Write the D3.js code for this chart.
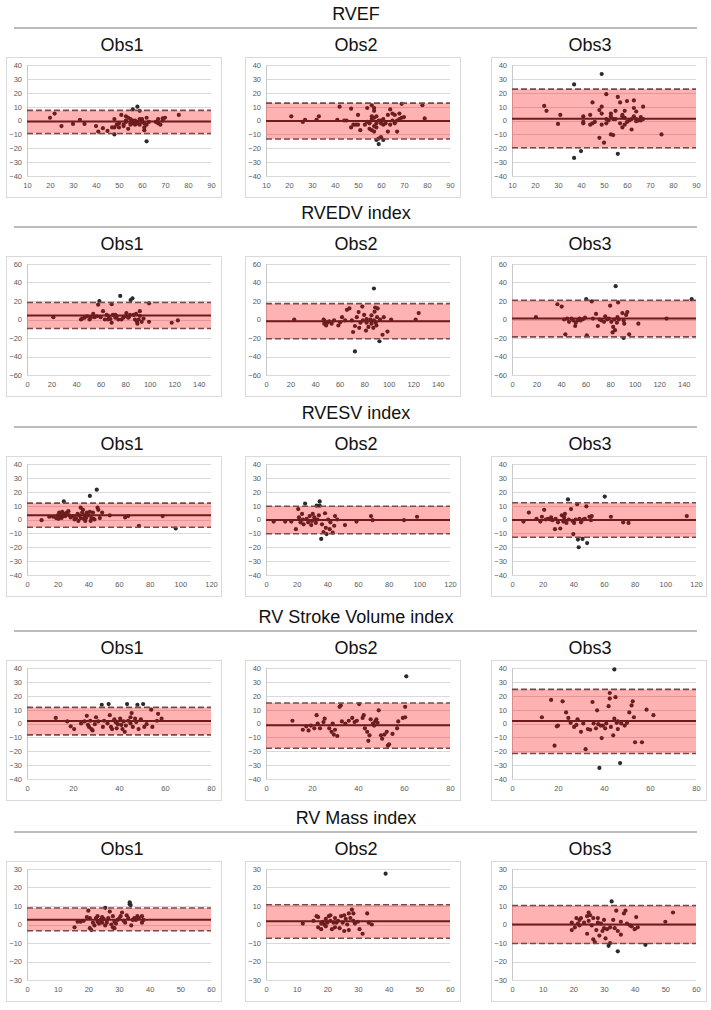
<!DOCTYPE html>
<html><head><meta charset="utf-8">
<script src="https://cdn.jsdelivr.net/npm/d3@7"></script>
<style>
html,body{margin:0;padding:0;background:#fff;}
svg{display:block;}
</style></head>
<body>
<svg id="chart" width="711" height="1010"></svg>
<script>
// ---------------- DATA ----------------
const rowTitles = ["RVEF", "RVEDV index", "RVESV index", "RV Stroke Volume index", "RV Mass index"];
const obsLabels = ["Obs1", "Obs2", "Obs3"];

const xDomains = [[10, 90], [0, 150], [0, 120], [0, 80], [0, 60]];
const xTickLabels = [
  [10, 20, 30, 40, 50, 60, 70, 80, 90],
  [0, 20, 40, 60, 80, 100, 120, 140],
  [0, 20, 40, 60, 80, 100, 120],
  [0, 20, 40, 60, 80],
  [0, 10, 20, 30, 40, 50, 60]
];
const yTickLabels = [
  [-40, -30, -20, -10, 0, 10, 20, 30, 40],
  [-60, -40, -20, 0, 20, 40, 60],
  [-40, -30, -20, -10, 0, 10, 20, 30, 40],
  [-40, -30, -20, -10, 0, 10, 20, 30, 40],
  [-30, -20, -10, 0, 10, 20, 30]
];

// mean difference and limits of agreement (rows x observers)
const meanDiff = [[-0.8, -0.3, 1.3], [4.2, -1.8, 1.0], [3.0, -0.3, -0.3], [1.8, -1.2, 1.8], [2.6, 1.7, 0.0]];
const upperLoA = [[7.3, 12.5, 22.6], [18.3, 17.2, 20.8], [11.8, 9.6, 12.1], [11.6, 14.8, 24.6], [8.9, 10.7, 10.3]];
const lowerLoA = [[-9.4, -13.3, -19.6], [-9.8, -20.8, -18.8], [-5.6, -10.3, -12.8], [-8.2, -17.8, -21.6], [-3.4, -7.4, -10.3]];

const rvefObs1 = [[20,2],[22,5],[25,-4],[30,-2.5],[33,0.5],[35,-2.5],[40,-4],[41,-8],[43,-5.5],[45,-7.5],[48,-10],[48,-5],[48,1],[49,-3],[50,-2],[50,-5],[51,4],[52,-4],[52,-3],[53,3],[53,-1],[54,-6],[54,2],[55,-2],[55,1],[56,8],[56,-2],[56,0],[57,-1],[57,-3],[58,10],[58,-2],[58,-1],[59,7],[59,-3],[60,1],[60,-1],[61,-5],[61,-7],[61,-2],[62,-15],[62,2],[62,-3],[63,-1],[66,-1],[67,-2],[67,1],[68,-3],[69,0],[69,1.5],[70,2],[76,4],[47,-5],[53,0],[57,0],[55,-3],[60,0],[59,1]];
const rvefObs2 = [[21,3],[26,-1],[27,0.5],[32,0.5],[33,3],[41,0.5],[42,10],[44,0],[45,0],[47,8.5],[47,-5],[48,-3],[49,-3],[50,4],[50,-3],[51,-7],[53,-3],[54,9],[54,-1],[55,-6],[55,-2],[56,3],[56,0],[56,-7],[56,11],[57,2],[57,-8],[57,7],[57,9],[58,-14],[58,-5],[58,-2],[58,3],[59,-17],[59,-13],[59,0],[60,-12],[60,-2],[61,-14],[61,1],[61,-3],[62,-2],[63,-8],[63,4],[64,-3],[64,8],[65,5],[65,0],[66,-2],[66,4],[67,-8],[67,0],[68,1],[68,5],[69,12],[69,2],[70,2.5],[78,11],[79,1.5],[56,1],[57,-4],[60,0]];
const rvefObs3 = [[24,10.5],[25,7],[30,-2.5],[31,4],[37,26],[37,-27],[40,-22],[41,3],[41,-1],[41,-2],[44,4],[44,-3],[45,13],[45,-2],[46,-1],[48,7.5],[48,-12.5],[49,10],[49,33.5],[49,-3],[49,5],[50,-16],[51,19],[51,1],[51,-2],[52,0],[53,3],[53,5],[53,-10],[54,-10.5],[54,1],[55,7],[55,1],[56,-24],[56,17],[57,13],[57,-2],[58,3],[58,-5],[58,4],[59,7],[59,-3],[60,14],[60,-1],[62,1],[62,-6.5],[63,3],[63,9],[63,14.5],[64,1],[64,6.5],[64,-0.5],[65,0],[66,0],[66,2.5],[67,1],[67,10],[75,-10],[61,0],[59,2]];

const rvedvObs1 = [[21.5,2.5],[44,0],[45,1],[47,2],[49,3.5],[51,0],[52,2],[54,6],[55,2.5],[57,3.5],[58,16],[59,20],[60,2.5],[62,9],[63.5,0],[65,5],[66.5,3.5],[68,0.5],[69,-3.5],[69,16.5],[70,5],[72,2],[73,3.5],[74.5,0],[76,25.5],[77,0],[78.5,2],[80,3.5],[81,7],[82.5,2],[83,2.5],[84.5,21],[86,23],[87,5],[88,0],[89,6],[89.5,-2],[90,-4.5],[91,0],[92,9],[92,4],[93.5,-2.5],[95,1],[99.5,17.5],[99.5,-2.5],[118,-3.5],[123,-1],[66,0],[72,5],[84,5]];
const rvedvObs2 = [[23,0],[47,0],[47.5,-4.5],[48,-2],[49,-6.5],[50,-3.5],[51.5,-2],[53.5,-4.5],[55.5,-1],[59,-6.5],[60.5,-3],[62,2.5],[64.5,-1],[66,10.5],[68,12],[70,-1],[71,-13.5],[72.5,-7],[74,2.5],[75.5,8],[76,-9],[77,-3.5],[78.5,14],[79,-1],[80,5],[81.5,-12],[82,0.5],[83.5,-8],[85,0],[86,4.5],[87.5,-9],[88,33.5],[88,-1],[88.5,8.5],[89,13],[89.5,-3.5],[90,-6.5],[90.5,2.5],[91,12],[92.5,-23.5],[93,0],[95,-16.5],[96,2.5],[99,-13],[102,0],[122,0],[124.5,7],[72.5,-34.5],[82,-3.5],[86,-4.5]];
const rvedvObs3 = [[19.5,2.5],[37,16.5],[40.5,14],[42.5,0],[43.5,-16],[45,1],[46.5,-2.5],[48.5,1],[50,-1],[51.5,-7],[52,-3.5],[53.5,-1],[55,1],[59.5,2],[60.5,22],[61,-17],[65,19.5],[66,1],[68.5,6],[70,-7],[71.5,0],[73,-1],[75,-2.5],[76,3.5],[77.5,0],[79,1],[80,15],[81,-2.5],[82,-14],[82.5,-8],[83.5,0],[84,-11.5],[84.5,36],[85.5,-3.5],[86,2.5],[86.5,18.5],[87,0],[90,7],[91,-20],[91,-1],[91.5,-4.5],[93,5],[94,8],[95.5,-16],[103,-4.5],[126,1],[146.5,22],[56,-1],[58,0.5]];

const rvesvObs1 = [[9.5,-0.5],[14.5,2],[17,2],[19,1],[20,3],[20.5,0.5],[21,5],[21.5,2],[22,4],[22.5,1],[23,5.5],[23.5,2.5],[24,13],[24.5,4],[25,2.5],[26,5],[27,6],[27.5,3],[28.5,1.5],[30,2.5],[31,0],[32,1],[33,4],[33.5,-1],[34,3],[35,8.5],[35,1],[36,5],[36.5,7],[37,0.5],[37.5,3],[38,-1],[38.5,1],[39,5],[40,3],[41,17],[41,5.5],[41.5,-1],[42,1],[43,5],[43.5,0.5],[44,0],[45.5,21.5],[46,8.5],[46.5,7],[47.5,1],[49,5],[54,3],[64,1.5],[66,2.5],[73,-4.5],[88.5,2.5],[97,-6.5]];
const rvesvObs2 = [[5,-1.5],[12.5,-1.5],[16.5,-1.5],[19.5,-7],[21,7.5],[21.5,1.5],[22.5,-2],[23.5,4],[24,0],[24.5,-3.5],[25.5,11.5],[26.5,0.5],[27.5,-2],[28.5,2.5],[29.5,-4],[30,-1],[30.5,4],[31.5,1.5],[32.5,-2.5],[33,10],[33.5,0],[34.5,3],[35,10],[35,13],[36,-14],[36.5,-3.5],[37.5,-9],[38.5,4.5],[39,-6],[39.5,-10.5],[40.5,0],[41.5,-7],[42,-2],[43.5,-9.5],[44.5,-4.5],[45,2.5],[46.5,0],[51.5,-4],[59,-1.5],[68.5,2.5],[69.5,-0.5],[90,-0.5],[98.5,2]];
const rvesvObs3 = [[7.5,-1.5],[11,5],[16,0.5],[18.5,-1.5],[19.5,2],[21,7],[22,0],[23.5,0.5],[25,0],[25.5,1.5],[26.5,-0.5],[28,-7],[28.5,0.5],[30,-2],[31.5,-6.5],[32.5,3],[33.5,-1.5],[34,1.5],[34.5,4],[35.5,-2.5],[36.5,14.5],[37,0],[38.5,7.5],[39.5,-1],[40,-10.5],[40.5,-2.5],[41.5,0],[42.5,11],[43,-14.5],[43.5,-20],[44,0.5],[45,-2],[46,-14],[46.5,0],[47.5,0.5],[48.5,9.5],[49,-17],[50.5,2],[51.5,-0.5],[52,2.5],[60.5,16.5],[64.5,2],[72.5,-2],[76,-2.5],[114,2.5]];

const svObs1 = [[12.5,4],[17.5,1.5],[19,-2],[20.5,-4],[23.5,0],[25,1.5],[26,5.5],[26.5,-1],[27,-2.5],[27.5,2],[28,-4],[28.5,-5],[29.5,-0.5],[30,4.5],[31,1.5],[32.5,13.5],[33,-2.5],[33.5,2],[35,0],[35.5,14],[36,6],[36.5,-2.5],[37,-4],[38,3],[38.5,1],[39,-3.5],[39.5,-0.5],[40.5,3.5],[41,-1],[41.5,-4],[42,1.5],[42.5,-6],[43,-1.5],[43.5,14],[44,2],[45,0],[45,4.5],[45.5,7.5],[46,-2.5],[47,3.5],[47.5,1],[48,13.5],[48.5,-4],[49.5,3],[50.5,14],[51,-2.5],[52,-0.5],[54.5,-2.5],[54,10],[56.5,2],[57,7],[58.5,3.5]];
const svObs2 = [[11.5,2],[16,-4.5],[17.5,-2],[18.5,-5],[19.5,-1.5],[21,-3.5],[22,6],[22.5,0],[23.5,-3.5],[25,1],[25.5,3.5],[27.5,-3.5],[28.5,-6],[29,0],[29.5,-8],[30,-4.5],[31,-9],[32,12],[32.5,13],[33,1.5],[34.5,0],[36,2],[37.5,4],[38.5,1],[39.5,2],[40.5,14],[42,4],[42.5,6],[43,-3.5],[44,-6],[44.5,-12.5],[45,-8.5],[45.5,3],[46.5,0],[47,-1.5],[47.5,1.5],[48,3],[48.5,0.5],[49,9.5],[50,-8.5],[50.5,-11],[51.5,-8],[52.5,-6],[53,-16],[53.5,-15],[55,-7.5],[57,-3.5],[57.5,1.5],[59.5,4],[60.5,12],[61,34],[60.5,4.5]];
const svObs3 = [[13,4.5],[17,17],[18.5,-16],[19.5,-2],[20,-1.5],[22,16],[23.5,8],[24.5,4],[25.5,0.5],[27,-2.5],[28,-1],[28.5,3],[30,-6],[31,0],[32,-18.5],[33,-4],[34,-4.5],[35,15.5],[35.5,0],[36.5,-3.5],[37,9.5],[37.5,-0.5],[38,-32],[38.5,-1.5],[39,-10.5],[39.5,-1.5],[40.5,-3.5],[41,0],[42,12.5],[42.5,22],[42.5,18],[43,-2.5],[44,-8.5],[44.5,3.5],[44.5,39],[45,19],[45.5,0.5],[46,-4],[46,1.5],[47,-28.5],[47.5,0],[49,-1.5],[50,0.5],[51,8],[52,13],[52.5,16],[53,4.5],[53.5,-13.5],[56.5,-13.5],[58.5,10],[61.5,6]];

const massObs1 = [[15.5,-1.5],[16.5,1.5],[17.5,1.5],[18.5,2],[19.5,4],[20,7.5],[20.5,-2],[20.5,3.5],[21,-3],[21.5,1],[22,-0.5],[22.5,3.5],[23,1.5],[23,4.5],[23.5,0.5],[24,2.5],[24.5,4],[24.5,1],[25,3],[25.5,-0.5],[25.5,9],[26,2],[26,1],[26.5,3.5],[27,7],[27.5,0],[28,4.5],[28,-1.5],[28.5,1.5],[28.5,-2],[29,0.5],[29.5,2.5],[30,3],[30.5,4.5],[31,6.5],[31.5,2],[32,1],[32.5,5],[33,3.5],[33.5,11],[33.5,12],[33.8,10.5],[34,-0.5],[34.5,2.5],[35,3.5],[35.5,2.5],[36,4.5],[36.5,3.5],[37.5,1],[37.5,4.5],[38,2.5]];
const massObs2 = [[12,0.5],[15.5,2],[16.5,4.5],[17,-1.5],[17,4],[18,0.5],[18,-2.5],[18.5,1.5],[19,0],[19.5,3],[19.5,-1],[20,1],[20.5,4.5],[21,5],[21,2],[21.5,-2.5],[22,1],[22.5,3.5],[22.5,-1.5],[23,1],[23.5,2],[24,-2],[24.5,4.5],[25,1],[25.5,5],[25.5,-3.5],[26,3],[26.5,0],[27,6],[27,-3],[27.5,3.5],[28,8],[28.5,2],[28.5,6],[29,0.5],[30,1.5],[30.5,-2.5],[31.5,-5],[33,6],[33.5,1],[34.5,0],[39,27.5]];
const massObs3 = [[19.5,-3],[19.5,1],[20.5,-1.5],[21,3.5],[21.5,0.5],[22,2.5],[22,-0.5],[22.5,3.5],[23.5,1],[24.5,4.5],[24.5,-5],[25,6.5],[25,2],[25.5,5],[26,-0.5],[26.5,-8],[26.5,3.5],[27,-9.5],[27.5,-3],[28,1],[28,3.5],[28.5,-6],[29,0.5],[29.5,-3.5],[30,2.5],[30,-2],[30.5,-7.5],[31,-2.5],[31.5,-11.5],[32,-10],[32,-1.5],[32.5,12.5],[33,2.5],[33.5,-2],[34,7.5],[34.5,-14.5],[34.5,-3.5],[35.5,1.5],[35.5,-5.5],[36.5,6],[37,7.5],[37.5,0.5],[38.5,-0.5],[39,-1],[40,-2.5],[40.5,4],[41,-1.5],[43.5,-11],[50,1.5],[52.5,6.5]];

const panelPoints = [
  [rvefObs1, rvefObs2, rvefObs3],
  [rvedvObs1, rvedvObs2, rvedvObs3],
  [rvesvObs1, rvesvObs2, rvesvObs3],
  [svObs1, svObs2, svObs3],
  [massObs1, massObs2, massObs3]
];

// ---------------- LAYOUT ----------------
const svg = d3.select("#chart");
const rowTops = [57, 256, 456, 660, 861];
const boxLefts = [6, 245, 491];
const obsCenters = [122, 356, 590];
const boxW = 215, boxH = 140;
const plotDX = 21, plotW = 184, plotDY = 8, plotH = 111;
const FONT = "'Liberation Sans', Arial, Helvetica, sans-serif";

rowTitles.forEach((title, r) => {
  const top = rowTops[r];
  svg.append("text").attr("x", 356).attr("y", top - 43)
    .attr("text-anchor", "middle").attr("dominant-baseline", "central")
    .style("font-family", FONT).style("font-size", "18px").attr("fill", "#111")
    .text(title);
  svg.append("line").attr("x1", 14).attr("x2", 697)
    .attr("y1", top - 29).attr("y2", top - 29)
    .attr("stroke", "#a6a6a6").attr("stroke-width", 1.5);

  obsLabels.forEach((obs, c) => {
    svg.append("text").attr("x", obsCenters[c]).attr("y", top - 12)
      .attr("text-anchor", "middle").attr("dominant-baseline", "central")
      .style("font-family", FONT).style("font-size", "18px").attr("fill", "#111")
      .text(obs);

    const bx = boxLefts[c];
    const g = svg.append("g").attr("transform", `translate(${bx},${top})`);
    g.append("rect").attr("x", 0.5).attr("y", 0.5).attr("width", boxW).attr("height", boxH)
      .attr("fill", "#fff").attr("stroke", "#d9d9d9").attr("stroke-width", 1);

    const p = g.append("g").attr("transform", `translate(${plotDX},${plotDY})`);
    const x = d3.scaleLinear().domain(xDomains[r]).range([0, plotW]);
    const yt = yTickLabels[r];
    const y = d3.scaleLinear().domain([yt[0], yt[yt.length - 1]]).range([plotH, 0]);

    // gridlines
    p.selectAll(".grid").data(yt).join("line")
      .attr("x1", 0).attr("x2", plotW)
      .attr("y1", d => Math.round(y(d)) + 0.5).attr("y2", d => Math.round(y(d)) + 0.5)
      .attr("stroke", "#d9d9d9").attr("stroke-width", 1);
    p.append("line").attr("x1", 0.5).attr("x2", 0.5).attr("y1", 0).attr("y2", plotH)
      .attr("stroke", "#c8c8c8").attr("stroke-width", 1);

    // axes labels
    const ya = p.append("g").call(d3.axisLeft(y).tickValues(yt).tickSize(0).tickPadding(5).tickFormat(d3.format("d")));
    ya.select(".domain").remove();
    ya.selectAll("text").style("font-family", FONT).style("font-size", "7.5px").attr("fill", "#595959");
    const xa = p.append("g").attr("transform", `translate(0,${plotH})`)
      .call(d3.axisBottom(x).tickValues(xTickLabels[r]).tickSize(0).tickPadding(7).tickFormat(d3.format("d")));
    xa.select(".domain").remove();
    xa.selectAll("text").style("font-family", FONT).style("font-size", "7.5px").attr("fill", "#595959");

    // points
    p.selectAll(".pt").data(panelPoints[r][c]).join("circle")
      .attr("cx", d => x(d[0])).attr("cy", d => y(d[1])).attr("r", 2.1)
      .attr("fill", "#2e2a2a");

    // translucent limits-of-agreement band
    const up = upperLoA[r][c], lo = lowerLoA[r][c], mn = meanDiff[r][c];
    p.append("rect").attr("x", 0).attr("width", plotW)
      .attr("y", y(up)).attr("height", y(lo) - y(up))
      .attr("fill", "rgb(255,0,0)").attr("fill-opacity", 0.3);

    // dashed limits
    [up, lo].forEach(v => {
      p.append("line").attr("x1", 0).attr("x2", plotW).attr("y1", y(v)).attr("y2", y(v))
        .attr("stroke", "#7a4848").attr("stroke-width", 1.6).attr("stroke-dasharray", "6,3");
    });
    // mean line
    p.append("line").attr("x1", 0).attr("x2", plotW).attr("y1", y(mn)).attr("y2", y(mn))
      .attr("stroke", "#6e1b1b").attr("stroke-width", 2);
  });
});
</script>
</body></html>
